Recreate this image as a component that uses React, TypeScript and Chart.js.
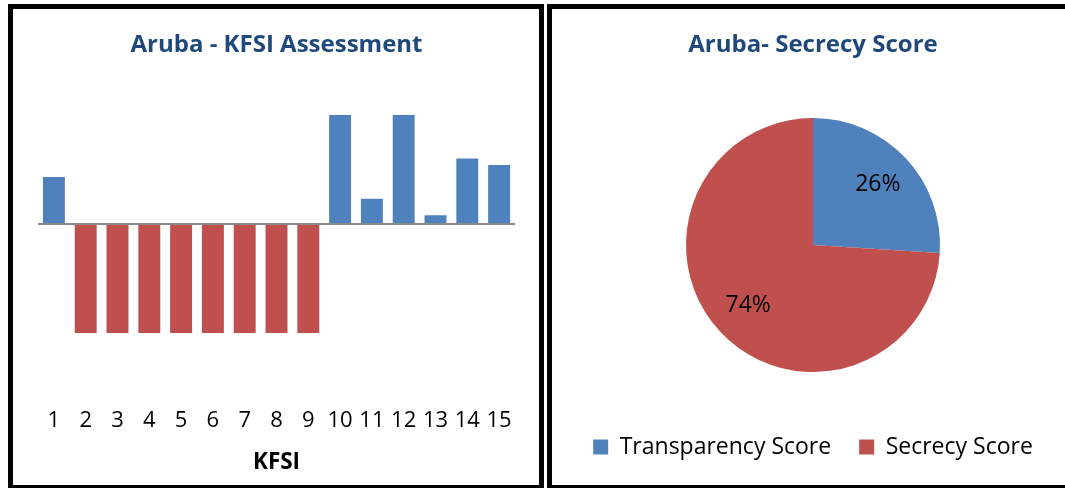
import React, { useEffect, useRef } from 'react';
import { Chart, registerables } from 'chart.js';

Chart.register(...registerables);

const FONT = "'Open Sans', 'DejaVu Sans', sans-serif";

const kfsiLabels = ['1', '2', '3', '4', '5', '6', '7', '8', '9', '10', '11', '12', '13', '14', '15'];
const kfsiValues = [43, -100, -100, -100, -100, -100, -100, -100, -100, 100, 23, 100, 8, 60, 54];

const pieLabels = ['Transparency Score', 'Secrecy Score'];
const pieValues = [26, 74];

const BLUE = '#4F81BD';
const RED = '#C0504D';
const TITLE_COLOR = '#1F497D';

const pieLabelPlugin = {
  id: 'pieLabels',
  afterDatasetsDraw(chart: any) {
    const ctx = chart.ctx;
    const meta = chart.getDatasetMeta(0);
    const total = pieValues.reduce((a, b) => a + b, 0);
    meta.data.forEach((arc: any, i: number) => {
      const p = arc.getProps(['x', 'y', 'startAngle', 'endAngle', 'outerRadius'], true);
      const mid = (p.startAngle + p.endAngle) / 2;
      const r = p.outerRadius * 0.7;
      ctx.save();
      ctx.font = `23px ${FONT}`;
      ctx.fillStyle = '#000';
      ctx.textAlign = 'center';
      ctx.textBaseline = 'middle';
      ctx.fillText(Math.round((pieValues[i] / total) * 100) + '%', p.x + Math.cos(mid) * r, p.y + Math.sin(mid) * r);
      ctx.restore();
    });
  },
};

export default function App() {
  const barRef = useRef<HTMLCanvasElement>(null);
  const pieRef = useRef<HTMLCanvasElement>(null);

  useEffect(() => {
    const bar = new Chart(barRef.current as HTMLCanvasElement, {
      type: 'bar',
      data: {
        labels: kfsiLabels,
        datasets: [
          {
            data: kfsiValues,
            backgroundColor: kfsiValues.map((v) => (v < 0 ? RED : BLUE)),
            borderWidth: 0,
            barPercentage: 0.69,
            categoryPercentage: 1,
          },
        ],
      },
      options: {
        responsive: false,
        animation: false,
        layout: { padding: { left: 25, right: 24, top: 0, bottom: 5 } },
        plugins: {
          legend: { display: false },
          tooltip: { enabled: false },
          title: {
            display: true,
            text: 'Aruba - KFSI Assessment',
            color: TITLE_COLOR,
            font: { family: FONT, size: 24, weight: 'bold' },
            padding: { top: 22, bottom: 55 },
          },
        },
        scales: {
          x: {
            grid: { display: false, drawTicks: false },
            border: { display: false },
            ticks: { color: '#000', font: { family: FONT, size: 22 }, padding: 75, maxRotation: 0, autoSkip: false },
            title: {
              display: true,
              text: 'KFSI',
              color: '#000',
              font: { family: FONT, size: 22.5, weight: 'bold' },
              padding: { top: 15, bottom: 4 },
            },
            afterFit: (scale: any) => {
              scale.height = 147;
              scale.paddingLeft = 0;
              scale.paddingRight = 0;
            },
          },
          y: {
            min: -100,
            max: 100,
            ticks: { display: false, stepSize: 100 },
            border: { display: false },
            grid: {
              drawTicks: false,
              lineWidth: 2,
              color: (c: any) => (c.tick && c.tick.value === 0 ? '#898989' : 'rgba(0,0,0,0)'),
            },
            afterFit: (scale: any) => {
              scale.width = 0;
            },
          },
        },
      },
    });

    const pie = new Chart(pieRef.current as HTMLCanvasElement, {
      type: 'pie',
      data: {
        labels: pieLabels,
        datasets: [
          {
            data: pieValues,
            backgroundColor: [BLUE, RED],
            borderWidth: 0,
            radius: 127,
          } as any,
        ],
      },
      options: {
        responsive: false,
        animation: false,
        layout: { padding: { left: 0, right: 0, top: 0, bottom: 16.5 } },
        plugins: {
          tooltip: { enabled: false },
          title: {
            display: true,
            text: 'Aruba- Secrecy Score',
            color: TITLE_COLOR,
            font: { family: FONT, size: 24, weight: 'bold' },
            padding: { top: 22, bottom: 22.7 },
          },
          legend: {
            position: 'bottom',
            labels: {
              boxWidth: 15,
              boxHeight: 15,
              color: '#000',
              font: { family: FONT, size: 23 },
              padding: 28,
            },
          },
        },
      },
      plugins: [pieLabelPlugin],
    });

    return () => {
      bar.destroy();
      pie.destroy();
    };
  }, []);

  const panel: React.CSSProperties = {
    position: 'absolute',
    top: 4,
    height: 486,
    border: '5px solid #000',
    boxSizing: 'border-box',
    background: '#fff',
  };

  return (
    <div>
      <div style={{ ...panel, left: 8, width: 536 }}>
        <canvas ref={barRef} width={526} height={476} style={{ position: 'absolute', left: 0, top: 0 }} />
      </div>
      <div style={{ ...panel, left: 547, width: 532 }}>
        <canvas ref={pieRef} width={522} height={476} style={{ position: 'absolute', left: 0, top: 0 }} />
      </div>
    </div>
  );
}
